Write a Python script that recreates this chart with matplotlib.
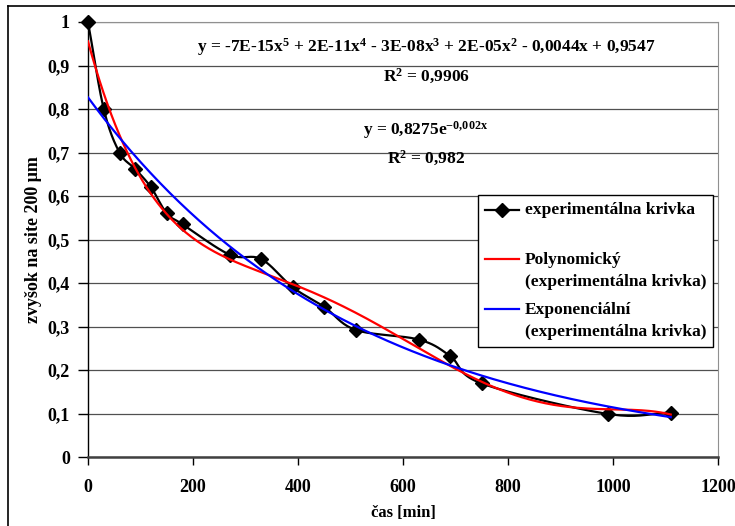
import numpy as np
import matplotlib
matplotlib.use('Agg')
import matplotlib.pyplot as plt
from matplotlib.legend_handler import HandlerLine2D
from matplotlib.lines import Line2D

plt.rcParams['font.family'] = ['Liberation Serif', 'DejaVu Serif']
plt.rcParams['font.weight'] = 'bold'
plt.rcParams['mathtext.fontset'] = 'custom'
plt.rcParams['mathtext.rm'] = 'Liberation Serif:bold'
plt.rcParams['mathtext.it'] = 'Liberation Serif:bold'
plt.rcParams['mathtext.bf'] = 'Liberation Serif:bold'

# data
cas = [0, 30, 60, 90, 120, 150, 180, 270, 330, 390, 450, 510, 630, 690, 750, 990, 1110]
zvysok = [1.0, 0.80, 0.70, 0.662, 0.62, 0.56, 0.535, 0.465, 0.455, 0.39, 0.345,
          0.292, 0.27, 0.232, 0.169, 0.099, 0.102]

x_ticks = [0, 200, 400, 600, 800, 1000, 1200]
y_ticks = [0, 0.1, 0.2, 0.3, 0.4, 0.5, 0.6, 0.7, 0.8, 0.9, 1.0]

lbl_exp = 'experimentálna krivka'
lbl_poly = 'Polynomický\n(experimentálna krivka)'
lbl_expo = 'Exponenciální\n(experimentálna krivka)'

eq_poly = 'y = -7E-15x$^5$ + 2E-11x$^4$ - 3E-08x$^3$ + 2E-05x$^2$ - 0,0044x + 0,9547'
r2_poly = 'R$^2$ = 0,9906'
eq_expo = 'y = 0,8275e$^{-0{,}002x}$'
r2_expo = 'R$^2$ = 0,982'


def catmull_rom(x, y, n=20):
    # smoothed line like the spreadsheet's "smoothed line" option
    x = np.asarray(x, float)
    y = np.asarray(y, float)
    px = np.concatenate([[2 * x[0] - x[1]], x, [2 * x[-1] - x[-2]]])
    py = np.concatenate([[2 * y[0] - y[1]], y, [2 * y[-1] - y[-2]]])
    xs, ys = [], []
    t = np.linspace(0, 1, n, endpoint=False)
    for i in range(1, len(px) - 2):
        for arr, out in ((px, xs), (py, ys)):
            p0, p1, p2, p3 = arr[i - 1], arr[i], arr[i + 1], arr[i + 2]
            out.extend(0.5 * (2 * p1 + (-p0 + p2) * t + (2 * p0 - 5 * p1 + 4 * p2 - p3) * t ** 2
                              + (-p0 + 3 * p1 - 3 * p2 + p3) * t ** 3))
    xs.append(x[-1])
    ys.append(y[-1])
    return np.array(xs), np.array(ys)


class FirstLineHandler(HandlerLine2D):
    # put the legend handle level with the first text line
    def create_artists(self, legend, orig_handle, xdescent, ydescent, width, height, fontsize, trans):
        return super().create_artists(legend, orig_handle, xdescent, ydescent - 1.3 * fontsize,
                                      width, height, fontsize, trans)


fig = plt.figure(figsize=(7.35, 5.26), dpi=100)
ax = fig.add_axes([88 / 735, 1 - 457 / 526, 630 / 735, 435 / 526])

# trend lines fitted on the data (same as the chart's trendline equations)
xt = np.array(cas, float)
yt = np.array(zvysok, float)
coef = np.polyfit(xt, yt, 5)
b, lna = np.polyfit(xt, np.log(yt), 1)
xx = np.linspace(0, max(cas), 300)

sx, sy = catmull_rom(cas, zvysok)
ax.plot(sx, sy, color='black', lw=1.6, zorder=3)
ax.plot(cas, zvysok, ls='none', marker='D', ms=7.5, color='black', zorder=4, clip_on=False)
ax.plot(xx, np.polyval(coef, xx), color='#ff0000', lw=1.6, zorder=5)
ax.plot(xx, np.exp(lna) * np.exp(b * xx), color='#0000ff', lw=1.6, zorder=5)

ax.set_xlim(0, 1200)
ax.set_ylim(0, 1)
ax.set_xticks(x_ticks)
ax.set_yticks(y_ticks)
ax.set_yticklabels([('%g' % v).replace('.', ',') for v in y_ticks])
ax.grid(axis='y', color='#505050', lw=0.9)
ax.set_axisbelow(True)
ax.tick_params(axis='y', direction='out', length=7, width=1, pad=6, labelsize=13)
ax.tick_params(axis='x', direction='out', length=6, width=1, pad=10, labelsize=13)
for lab in ax.get_xticklabels() + ax.get_yticklabels():
    lab.set_fontweight('bold')

ax.spines['left'].set_color('black')
ax.spines['left'].set_linewidth(1.0)
ax.spines['bottom'].set_color('#404040')
ax.spines['bottom'].set_linewidth(1.8)
ax.spines['top'].set_color('#909090')
ax.spines['right'].set_color('#909090')

ax.set_xlabel('čas [min]', fontsize=12, fontweight='bold', labelpad=6)
ax.set_ylabel('zvyšok na site 200 μm', fontsize=13, fontweight='bold', labelpad=4)

tx = 644
ax.text(tx, 0.943, eq_poly, ha='center', va='center', fontsize=12.5, fontweight='bold')
ax.text(tx, 0.874, r2_poly, ha='center', va='center', fontsize=12.5, fontweight='bold')
ax.text(tx, 0.752, eq_expo, ha='center', va='center', fontsize=12.5, fontweight='bold')
ax.text(tx, 0.687, r2_expo, ha='center', va='center', fontsize=12.5, fontweight='bold')

handles = [Line2D([], [], color='black', lw=1.6, marker='D', ms=7.5),
           Line2D([], [], color='#ff0000', lw=1.6),
           Line2D([], [], color='#0000ff', lw=1.6)]
leg = ax.legend(handles, [lbl_exp + '\n', lbl_poly, lbl_expo],
                loc='upper right', bbox_to_anchor=(713 / 735, 1 - 195 / 526),
                bbox_transform=fig.transFigure, borderaxespad=0, fancybox=False,
                framealpha=1, edgecolor='black', fontsize=12.5, handlelength=2.0,
                handletextpad=0.3, labelspacing=0.68, borderpad=0.4, markerscale=1,
                numpoints=1, handler_map={Line2D: FirstLineHandler(numpoints=1)})
leg.get_frame().set_linewidth(1.0)
for t in leg.get_texts():
    t.set_fontweight('bold')
    t.set_linespacing(1.5)

# outer chart border
fig.add_artist(Line2D([8 / 735, 8 / 735], [0, 1 - 6 / 526], color='black', lw=1.2))
fig.add_artist(Line2D([8 / 735, 1], [1 - 6 / 526, 1 - 6 / 526], color='black', lw=1.2))

fig.savefig('out.png', dpi=100)
